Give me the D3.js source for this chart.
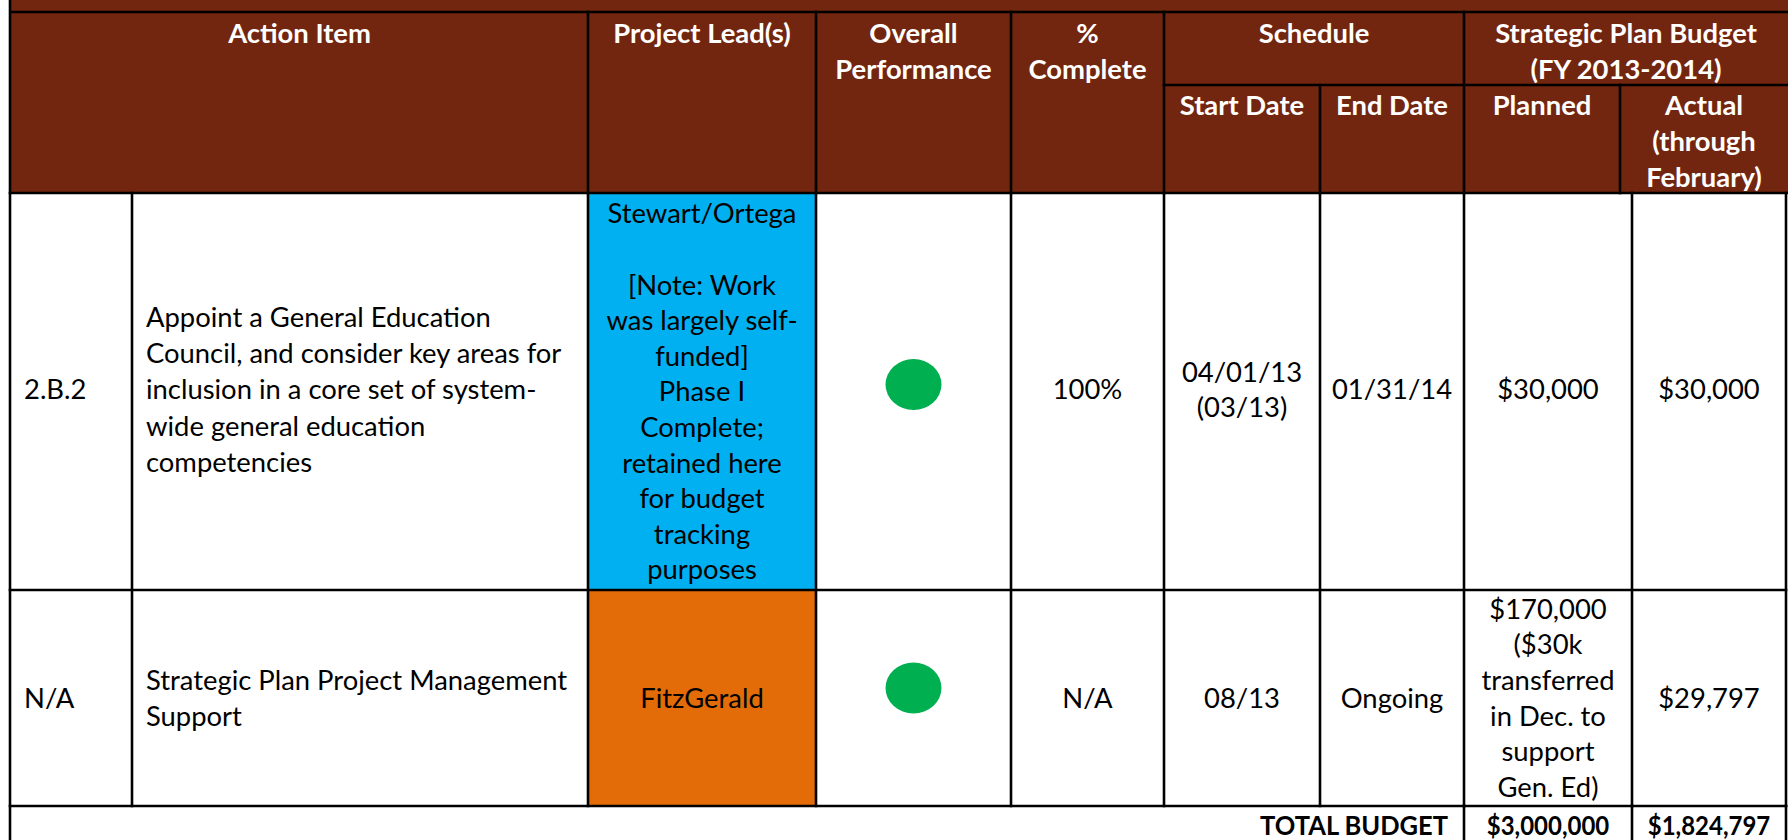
<!DOCTYPE html>
<html>
<head>
<meta charset="utf-8">
<script src="https://cdn.jsdelivr.net/npm/d3@7"></script>
<style>
  html, body { margin: 0; padding: 0; background: #ffffff; }
  svg { display: block; }
</style>
</head>
<body>
<svg id="chart" width="1788" height="840"></svg>
<script>
// ---------------- DATA ----------------
const headerTop = ["Action Item", "Project Lead(s)", "Overall\nPerformance", "%\nComplete"];
const groupHeaders = ["Schedule", "Strategic Plan Budget\n(FY 2013-2014)"];
const subHeaders = ["Start Date", "End Date", "Planned", "Actual\n(through\nFebruary)"];

const ids = ["2.B.2", "N/A"];
const actionItems = [
  "Appoint a General Education\nCouncil, and consider key areas for\ninclusion in a core set of system-\nwide general education\ncompetencies",
  "Strategic Plan Project Management\nSupport"
];
const projectLeads = [
  "Stewart/Ortega\n\n[Note: Work\nwas largely self-\nfunded]\nPhase I\nComplete;\nretained here\nfor budget\ntracking\npurposes",
  "FitzGerald"
];
const leadStatus = ["complete", "ongoing"];
const performance = ["on-track", "on-track"];
const pctComplete = ["100%", "N/A"];
const startDates = ["04/01/13\n(03/13)", "08/13"];
const endDates = ["01/31/14", "Ongoing"];
const plannedBudget = ["$30,000", "$170,000\n($30k\ntransferred\nin Dec. to\nsupport\nGen. Ed)"];
const actualBudget = ["$30,000", "$29,797"];
const totalLabel = "TOTAL BUDGET";
const totalPlanned = "$3,000,000";
const totalActual = "$1,824,797";

// ---------------- LAYOUT / STYLE ----------------
const W = 1788, H = 840;
const BROWN = "#73260F";
const statusColor = d3.scaleOrdinal().domain(["complete", "ongoing"]).range(["#00B0F0", "#E36C09"]);
const perfColor = d3.scaleOrdinal().domain(["on-track"]).range(["#00B050"]);
const FONT = "Lato, 'Open Sans', sans-serif";
const FS = 27.4;
const LH = 35.6;
const SW = 2.6;

const bodyCols = [10, 132, 588, 816, 1011, 1164, 1320, 1464, 1632, 1786];
const yTop = 12, yMid = 85, yHead = 193;
const rowBottoms = [590, 806];

const x = i => bodyCols[i];
const svg = d3.select("#chart");

// header background
svg.append("rect").attr("x", 11).attr("y", 0).attr("width", W - 11).attr("height", yHead).attr("fill", BROWN);

// body rows
const rows = ids.map((id, i) => ({
  i,
  y0: i === 0 ? yHead : rowBottoms[i - 1],
  y1: rowBottoms[i],
  cells: [
    {col: 0, text: id, align: "start"},
    {col: 1, text: actionItems[i], align: "start", lh: 36.4},
    {col: 2, text: projectLeads[i], align: "middle", fill: statusColor(leadStatus[i])},
    {col: 4, text: pctComplete[i], align: "middle"},
    {col: 5, text: startDates[i], align: "middle"},
    {col: 6, text: endDates[i], align: "middle"},
    {col: 7, text: plannedBudget[i], align: "middle"},
    {col: 8, text: actualBudget[i], align: "middle"}
  ],
  perf: performance[i]
}));

// cell fills
rows.forEach(r => {
  r.cells.filter(c => c.fill).forEach(c => {
    svg.append("rect")
      .attr("x", x(c.col)).attr("y", r.y0)
      .attr("width", x(c.col + 1) - x(c.col)).attr("height", r.y1 - r.y0)
      .attr("fill", c.fill);
  });
});

function drawLines(g, text, cx, cy, anchor, opts) {
  const lines = text.split("\n");
  const lh = opts.lh || LH;
  const startY = opts.top != null ? opts.top : cy - (lines.length - 1) / 2 * lh;
  const holder = opts.sx ? g.append("g").attr("transform", `translate(${cx},0) scale(${opts.sx},1) translate(${-cx},0)`) : g;
  const t = holder.append("text")
    .attr("font-family", FONT)
    .attr("font-size", FS)
    .attr("font-weight", opts.bold ? 700 : 400)
    .attr("fill", opts.color || "#000")
    .attr("text-anchor", anchor);
  t.selectAll("tspan").data(lines).join("tspan")
    .attr("x", cx)
    .attr("y", (d, k) => startY + k * lh)
    .attr("dy", "0.36em")
    .text(d => d);
}

// body text
const gText = svg.append("g");
rows.forEach(r => {
  const cy = (r.y0 + r.y1) / 2;
  r.cells.forEach(c => {
    const cx = c.align === "start" ? x(c.col) + 14 : (x(c.col) + x(c.col + 1)) / 2;
    drawLines(gText, c.text, cx, cy - (r.i === 0 && c.col !== 2 ? 2 : 0), c.align, {lh: c.lh});
  });
  // performance indicator
  svg.append("ellipse")
    .attr("cx", (x(3) + x(4)) / 2)
    .attr("cy", cy - (r.i === 0 ? 7 : 10))
    .attr("rx", 28).attr("ry", 25.5)
    .attr("fill", perfColor(r.perf));
});

// header text
const hTop = 21.5;
const topSpans = [[0, 2], [2, 3], [3, 4], [4, 5]];
headerTop.forEach((h, k) => {
  const [a, b] = topSpans[k];
  const x0 = a === 0 ? 11 : x(a);
  drawLines(gText, h, (x0 + x(b)) / 2, 0, "middle", {top: yTop + hTop, bold: true, color: "#fff"});
});
const groupSpans = [[1164, 1464], [1464, W]];
groupHeaders.forEach((h, k) => {
  drawLines(gText, h, (groupSpans[k][0] + groupSpans[k][1]) / 2, 0, "middle", {top: yTop + hTop, bold: true, color: "#fff"});
});
const subSpans = [[1164, 1320], [1320, 1464], [1464, 1620], [1620, W]];
subHeaders.forEach((h, k) => {
  drawLines(gText, h, (subSpans[k][0] + subSpans[k][1]) / 2, 0, "middle", {top: yMid + 20.5, bold: true, color: "#fff"});
});

// total row
const totalCy = (rowBottoms[1] + 844) / 2;
drawLines(gText, totalLabel, x(7) - 16, totalCy, "end", {bold: true, sx: 0.93});
drawLines(gText, totalPlanned, (x(7) + x(8)) / 2, totalCy, "middle", {bold: true, sx: 0.875});
drawLines(gText, totalActual, (x(8) + x(9)) / 2, totalCy, "middle", {bold: true, sx: 0.875});

// grid lines
const lines = [];
lines.push([11, yTop, W, yTop]);
lines.push([1164, yMid, W, yMid]);
lines.push([10, yHead, W, yHead]);
rowBottoms.forEach(y => lines.push([10, y, 1786, y]));
lines.push([10, 0, 10, H]);
[588, 816, 1011, 1164, 1464].forEach(v => lines.push([v, yTop, v, yHead]));
[1320, 1620].forEach(v => lines.push([v, yMid, v, yHead]));
bodyCols.slice(1).forEach(v => lines.push([v, yHead, v, rowBottoms[1]]));
[1464, 1632, 1786].forEach(v => lines.push([v, rowBottoms[1], v, H]));

svg.append("g").selectAll("line").data(lines).join("line")
  .attr("x1", d => d[0]).attr("y1", d => d[1])
  .attr("x2", d => d[2]).attr("y2", d => d[3])
  .attr("stroke", "#000").attr("stroke-width", SW)
  .attr("stroke-linecap", "square");
</script>
</body>
</html>
